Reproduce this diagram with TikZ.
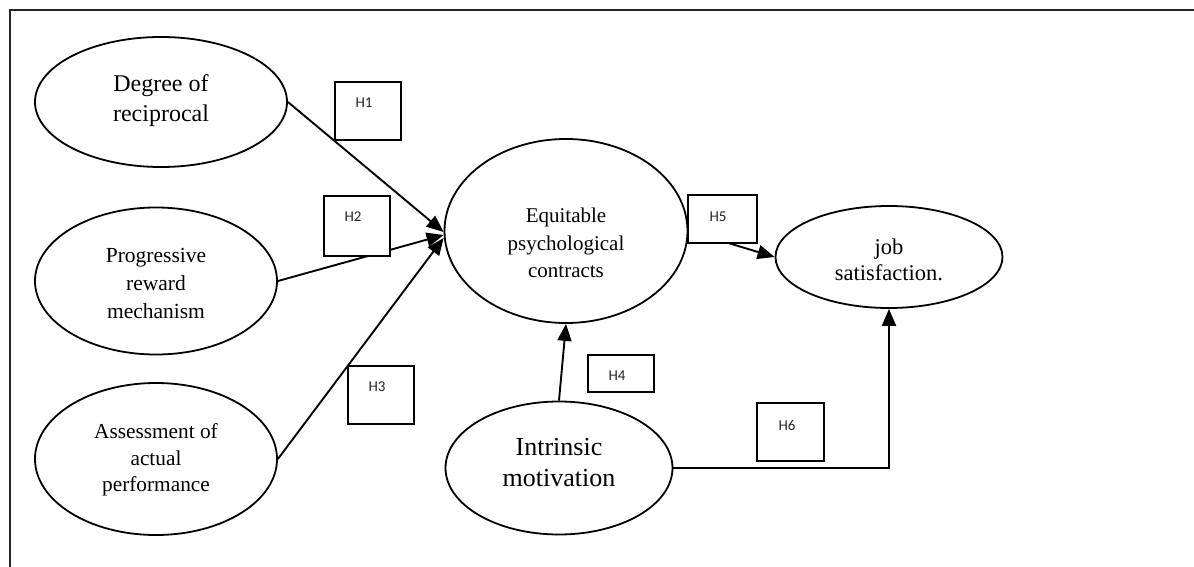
\documentclass[tikz,border=0pt]{standalone}
\usepackage{fontspec}
\setmainfont{Liberation Serif}
\newfontfamily\hfont{Carlito}
\usetikzlibrary{shapes.geometric,arrows.meta}
\begin{document}
\begin{tikzpicture}[x=1pt,y=-1pt,
 construct/.style={ellipse,draw,line width=1.8pt,inner sep=0pt},
 ctext/.style={align=center,inner sep=0pt},
 hbox/.style={draw,fill=white,line width=2pt,inner sep=0pt},
 hlabel/.style={font=\hfont\fontsize{15}{17}\selectfont,inner sep=0pt,text=black!85},
 link/.style={line width=1.9pt,-{Triangle[length=17pt,width=14pt]}},
 plain/.style={line width=1.9pt}]
\useasboundingbox (0,0) rectangle (1194,567);
\draw[line width=2.6pt,black!85] (10,567) -- (10,10) -- (1194,10);

% constructs
\node[construct,minimum width=252pt,minimum height=130pt] (dr) at (161,102) {};
\node[construct,minimum width=242pt,minimum height=147pt] (pr) at (156,281) {};
\node[construct,minimum width=242pt,minimum height=152pt] (ap) at (156,459) {};
\node[construct,minimum width=243pt,minimum height=184pt] (eq) at (566,231) {};
\node[construct,minimum width=227pt,minimum height=102pt] (js) at (889,257) {};
\node[construct,minimum width=227pt,minimum height=133pt] (im) at (559,468) {};

\node[ctext,font=\fontsize{24}{30}\selectfont] (drt) at (161,101) {Degree of\\reciprocal};
\node[ctext,font=\fontsize{21.5}{28}\selectfont] (prt) at (156,283) {Progressive\\reward\\mechanism};
\node[ctext,font=\fontsize{21.3}{26.7}\selectfont] (apt) at (156,460) {Assessment of\\actual\\performance};
\node[ctext,font=\fontsize{21}{27.5}\selectfont] (eqt) at (566,243) {Equitable\\psychological\\contracts};
\node[ctext,font=\fontsize{22.5}{26}\selectfont] (jst) at (889,260) {job\\satisfaction.};
\node[ctext,font=\fontsize{26}{31}\selectfont] (imt) at (559,463) {Intrinsic\\motivation};

% connectors
\draw[link] (dr.east) -- ([yshift=-1pt]eq.west);
\draw[link] (pr.east) -- ([yshift=-4pt]eq.west);
\draw[link] (ap.east) -- ([yshift=-7pt]eq.west);
\draw[link] (im.north) -- (eq.south);
\draw[link] (eq.east) -- (js.west);
\draw[link] (im.east) -| (js.south);

% hypothesis boxes
\node[hbox,minimum width=66pt,minimum height=58pt] (b1) at (368,111) {};
\node[hbox,minimum width=66pt,minimum height=60pt] (b2) at (357,226) {};
\node[hbox,minimum width=66pt,minimum height=58pt] (b3) at (381,395) {};
\node[hbox,minimum width=66pt,minimum height=37pt] (b4) at (621,373.5) {};
\node[hbox,minimum width=69pt,minimum height=48pt] (b5) at (722.5,219) {};
\node[hbox,minimum width=67pt,minimum height=58pt] (b6) at (790.5,432) {};

\node[hlabel] (l1) at (364,103) {H1};
\node[hlabel] (l2) at (353,217) {H2};
\node[hlabel] (l3) at (377,387) {H3};
\node[hlabel] (l4) at (617,376) {H4};
\node[hlabel] (l5) at (718,217) {H5};
\node[hlabel] (l6) at (787,425) {H6};
\end{tikzpicture}
\end{document}
